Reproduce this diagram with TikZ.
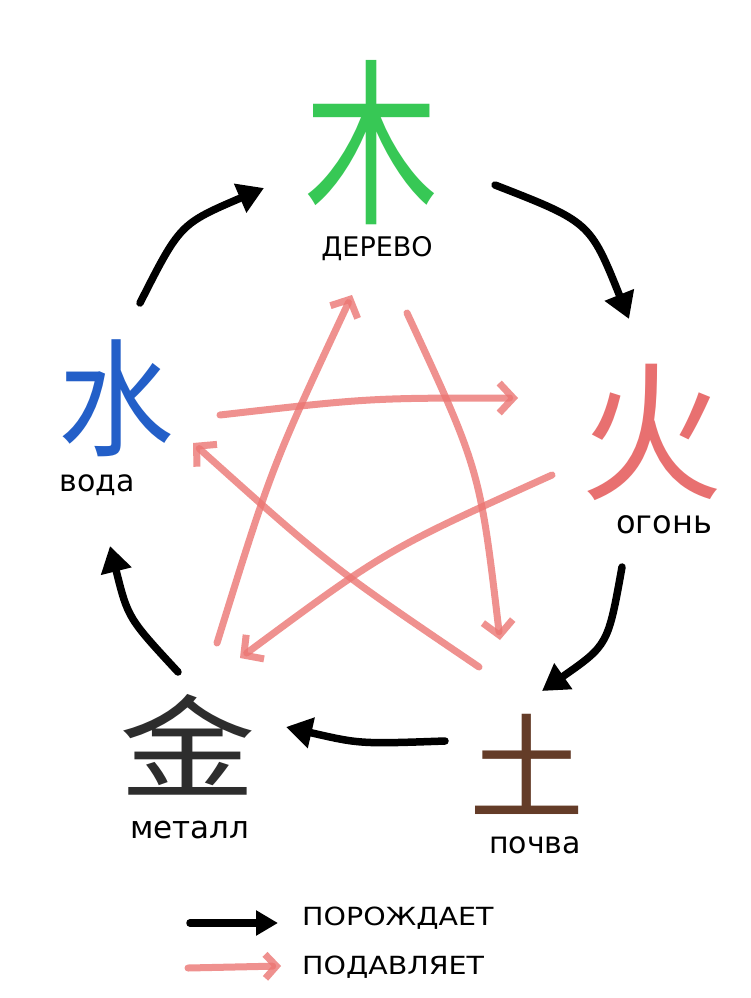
\documentclass[tikz,border=0pt]{standalone}
\usepackage{fontspec}
\setmainfont{DejaVu Sans}
\newfontfamily\cjk{Noto Sans CJK SC}
\usetikzlibrary{arrows.meta}
\definecolor{woodgreen}{RGB}{55,200,85}
\definecolor{firered}{RGB}{232,112,112}
\definecolor{earthbrown}{RGB}{100,60,40}
\definecolor{metalgray}{RGB}{45,45,45}
\definecolor{waterblue}{RGB}{35,95,200}
\definecolor{ctrlred}{RGB}{236,118,115}
\begin{document}
\begin{tikzpicture}[x=1pt,y=-1pt,
  hanzi/.style={inner sep=0pt, font=\cjk},
  elabel/.style={inner sep=0pt, text=black},
  gen/.style={line width=7.5pt, line cap=round, -{Triangle[length=26pt,width=30pt]}},
  ctrl/.style={line width=7pt, draw=ctrlred, line cap=round, line join=round, opacity=0.8,
               -{Straight Barb[length=14pt,width=30pt]}}]
\useasboundingbox (0,0) rectangle (750,998);
\fill[white] (0,0) rectangle (750,998);

% elements
\node[hanzi, text=woodgreen]  (wood)  at (372,134) {\scalebox{0.78}[1.04]{\fontsize{172}{172}\selectfont\raisebox{0pt}[0.86em][0pt]{木}}};
\node[hanzi, text=firered]    (fire)  at (652,432) {\scalebox{0.95}[1]{\fontsize{150}{150}\selectfont 火}};
\node[hanzi, text=earthbrown] (earth) at (527,764) {\fontsize{115}{115}\selectfont 土};
\node[hanzi, text=metalgray]  (metal) at (188,745) {\scalebox{1.22}[1]{\fontsize{112}{112}\selectfont 金}};
\node[hanzi, text=waterblue]  (water) at (116,398) {\scalebox{0.98}[1.08]{\fontsize{118}{118}\selectfont 水}};

% labels
\node[elabel, font=\fontsize{27}{30}\selectfont] (woodl)  at (377,249) {ДЕРЕВО};
\node[elabel, font=\fontsize{32}{36}\selectfont] (firel)  at (664,525) {огонь};
\node[elabel, font=\fontsize{30}{34}\selectfont] (earthl) at (535,845) {почва};
\node[elabel, font=\fontsize{31}{34}\selectfont] (metall) at (190,830) {металл};
\node[elabel, font=\fontsize{30}{34}\selectfont] (waterl) at (97,485) {вода};

% generating cycle endpoints
\coordinate (g1s) at (140,303); \coordinate (g1e) at (264,188);
\coordinate (g2s) at (495,185); \coordinate (g2e) at (629,319);
\coordinate (g3s) at (622,567); \coordinate (g3e) at (542,691);
\coordinate (g4s) at (445,741); \coordinate (g4e) at (286,727);
\coordinate (g5s) at (178,672); \coordinate (g5e) at (110,546);

\draw[gen] (g1s) .. controls (180,224) .. (g1e);
\draw[gen] (g2s) .. controls (590,222) .. (g2e);
\draw[gen] (g3s) .. controls (608,645) .. (g3e);
\draw[gen] (g4s) .. controls (360,744) .. (g4e);
\draw[gen] (g5s) .. controls (128,618) .. (g5e);

% controlling cycle (star)
\coordinate (c1s) at (217,643); \coordinate (c1e) at (352,295);
\coordinate (c2s) at (407,313); \coordinate (c2e) at (500,640);
\coordinate (c3s) at (220,415); \coordinate (c3e) at (518,398);
\coordinate (c4s) at (552,475); \coordinate (c4e) at (240,658);
\coordinate (c5s) at (479,667); \coordinate (c5e) at (193,443);

\draw[ctrl] (c1s) .. controls (272,466) .. (c1e);
\draw[ctrl] (c2s) .. controls (480,470) .. (c2e);
\draw[ctrl] (c3s) .. controls (369,398) .. (c3e);
\draw[ctrl] (c4s) .. controls (386,550) .. (c4e);
\draw[ctrl] (c5s) .. controls (330,566) .. (c5e);

% legend
\coordinate (lg1s) at (190,923); \coordinate (lg1e) at (278,923);
\coordinate (lg2s) at (188,968); \coordinate (lg2e) at (281,966);
\draw[gen, -{Triangle[length=22pt,width=24pt]}] (lg1s) -- (lg1e);
\draw[ctrl, -{Straight Barb[length=11pt,width=24pt]}] (lg2s) -- (lg2e);
\node[elabel, anchor=west, font=\fontsize{25}{28}\selectfont] (lgt1) at (302,918) {\scalebox{1.14}[1]{ПОРОЖДАЕТ}};
\node[elabel, anchor=west, font=\fontsize{25}{28}\selectfont] (lgt2) at (302,967) {\scalebox{1.14}[1]{ПОДАВЛЯЕТ}};
\end{tikzpicture}
\end{document}
